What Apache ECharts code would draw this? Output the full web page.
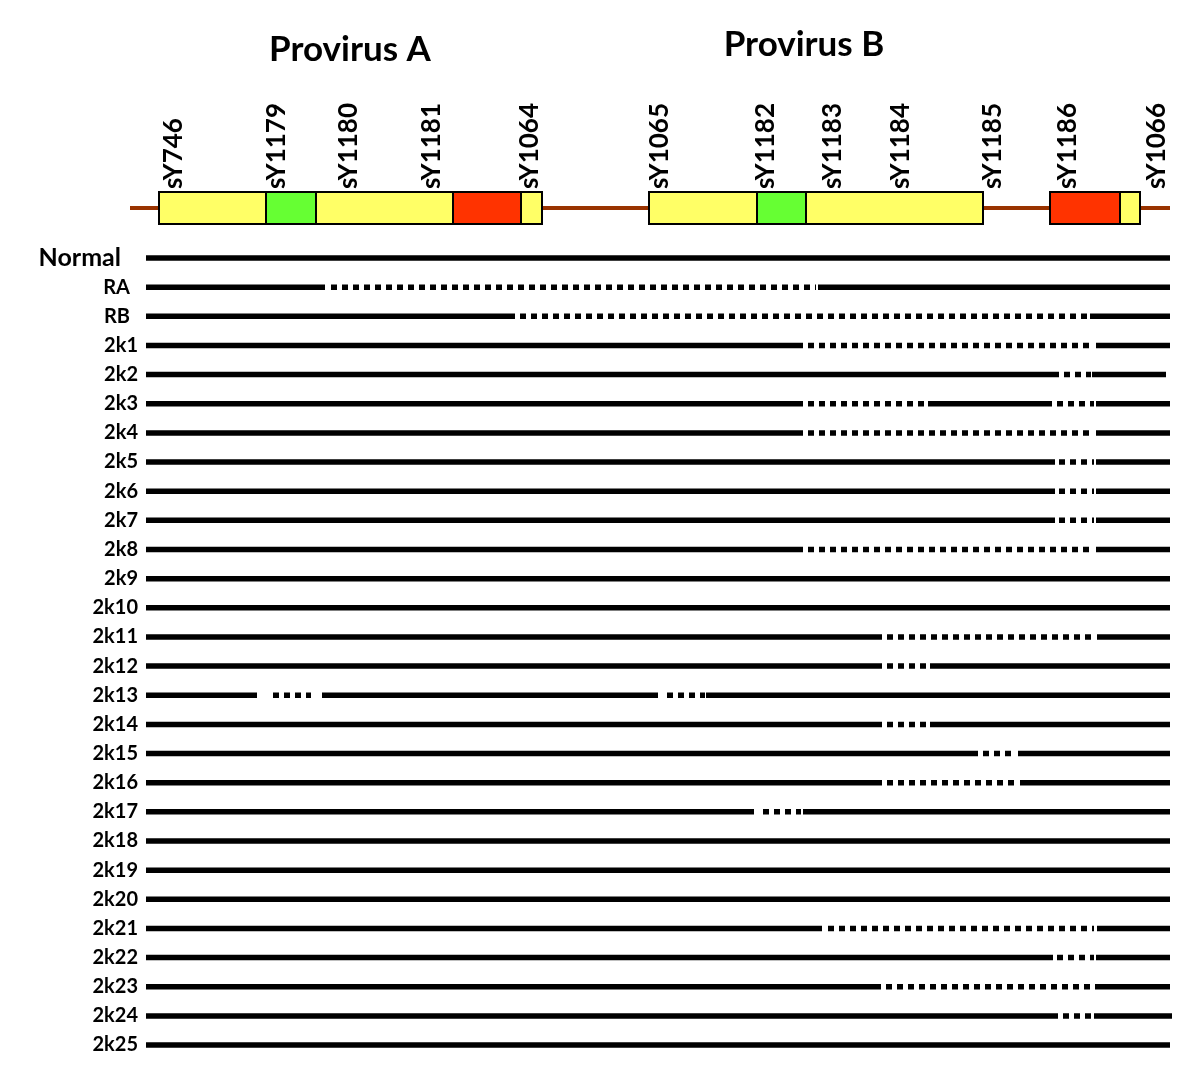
<!DOCTYPE html>
<html><head><meta charset="utf-8">
<script src="https://cdn.jsdelivr.net/npm/echarts@6/dist/echarts.min.js"></script>
<style>html,body{margin:0;padding:0;background:#fff}#c{width:1200px;height:1085px}</style>
</head><body><div id="c"></div>
<script>
// ---- data (positions along the map, in map units) ----
const rowNames = ['Normal','RA','RB','2k1','2k2','2k3','2k4','2k5','2k6','2k7','2k8','2k9','2k10',
  '2k11','2k12','2k13','2k14','2k15','2k16','2k17','2k18','2k19','2k20','2k21','2k22','2k23','2k24','2k25'];

// present (solid) stretches: [row, start, end]
const presentRuns = [
  ['Normal',146,1170],
  ['RA',146,325],['RA',818,1170],
  ['RB',146,515],['RB',1090,1170],
  ['2k1',146,803],['2k1',1096,1170],
  ['2k2',146,1059],['2k2',1092,1166],
  ['2k3',146,803],['2k3',928,1052],['2k3',1096,1170],
  ['2k4',146,803],['2k4',1096,1170],
  ['2k5',146,1055],['2k5',1096,1170],
  ['2k6',146,1055],['2k6',1096,1170],
  ['2k7',146,1055],['2k7',1096,1170],
  ['2k8',146,803],['2k8',1096,1170],
  ['2k9',146,1170],
  ['2k10',146,1170],
  ['2k11',146,882],['2k11',1097,1170],
  ['2k12',146,882],['2k12',930,1170],
  ['2k13',146,257],['2k13',322,658],['2k13',706,1170],
  ['2k14',146,882],['2k14',930,1170],
  ['2k15',146,978],['2k15',1018,1170],
  ['2k16',146,882],['2k16',1020,1170],
  ['2k17',146,754],['2k17',803,1170],
  ['2k18',146,1170],
  ['2k19',146,1170],
  ['2k20',146,1170],
  ['2k21',146,822],['2k21',1097,1170],
  ['2k22',146,1053],['2k22',1096,1170],
  ['2k23',146,881],['2k23',1095,1170],
  ['2k24',146,1058],['2k24',1094,1172],
  ['2k25',146,1170]
];

// deleted (dotted) stretches: [row, start, end]
const deletedRuns = [
  ['RA',331,816],
  ['RB',520,1089],
  ['2k1',808,1094],
  ['2k2',1064,1091],
  ['2k3',808,926],['2k3',1057,1094],
  ['2k4',808,1094],
  ['2k5',1059,1094],
  ['2k6',1059,1094],
  ['2k7',1059,1094],
  ['2k8',808,1094],
  ['2k11',887,1094],
  ['2k12',887,927],
  ['2k13',273,311],['2k13',667,705],
  ['2k14',887,927],
  ['2k15',983,1016],
  ['2k16',887,1016],
  ['2k17',763,801],
  ['2k21',828,1094],
  ['2k22',1057,1094],
  ['2k23',886,1093],
  ['2k24',1063,1092]
];

// proviral structure blocks: [start, end, region]
const provirusBlocks = [
  [159,266,'body'],[266,316,'green'],[316,453,'body'],[453,521,'red'],[521,542,'body'],
  [649,757,'body'],[757,806,'green'],[806,983,'body'],[1050,1120,'red'],[1120,1140,'body']
];
const backbone = [[130,1170]];

// STS markers: [name, position]
const markers = [
  ['sY746',174],['sY1179',277],['sY1180',349],['sY1181',432],['sY1064',530],
  ['sY1065',660],['sY1182',766],['sY1183',833],['sY1184',901],['sY1185',993],
  ['sY1186',1068],['sY1066',1157]
];

const titles = [['Provirus A',350],['Provirus B',804]];

// ---- chart ----
const FONT = 'Lato, "Open Sans", sans-serif';
const regionColor = {body:'#FFFF66', green:'#66FF33', red:'#FF3300'};

function runRenderer(dashed){
  return function(params, api){
    const r = api.value(0);
    const a = api.coord([api.value(1), r]);
    const b = api.coord([api.value(2), r]);
    return {type:'line', shape:{x1:a[0],y1:a[1],x2:b[0],y2:b[1]},
      style:{stroke:'#000', lineWidth:5.5, lineCap:'butt', lineDash: dashed ? [6,5] : null}};
  };
}

const chart = echarts.init(document.getElementById('c'));
chart.setOption({
  backgroundColor:'#fff',
  animation:false,
  graphic: titles.map((t,i)=>({type:'text', x:t[1], y: i===0 ? 50 : 45,
    style:{text:t[0], font:'bold 35px '+FONT, fill:'#000', align:'center', verticalAlign:'middle'}})),
  grid:[
    {left:146, right:30, top:243.4, bottom:25.4},
    {left:130, right:30, top:192, height:32}
  ],
  xAxis:[
    {type:'value', gridIndex:0, min:146, max:1170, show:false},
    {type:'value', gridIndex:1, min:130, max:1170, show:false}
  ],
  yAxis:[
    {type:'category', gridIndex:0, data:rowNames, inverse:true, boundaryGap:true,
      axisLine:{show:false}, axisTick:{show:false}, splitLine:{show:false},
      axisLabel:{interval:0, margin:8, color:'#000',
        formatter: v => v==='Normal' ? '{n|'+v+'}' : (v==='RA'||v==='RB') ? '{r|'+v+'}' : '{k|'+v+'}',
        rich:{
          n:{fontSize:25, fontWeight:'bold', fontFamily:FONT, color:'#000', padding:[0,17,0,0]},
          r:{fontSize:20, fontWeight:'bold', fontFamily:FONT, color:'#000', padding:[0,8,0,0]},
          k:{fontSize:20, fontWeight:'bold', fontFamily:FONT, color:'#000'}
        }}},
    {type:'value', gridIndex:1, min:0, max:1, show:false}
  ],
  series:[
    {type:'custom', xAxisIndex:0, yAxisIndex:0, data:presentRuns, encode:{x:[1,2], y:0},
      renderItem: runRenderer(false), silent:true},
    {type:'custom', xAxisIndex:0, yAxisIndex:0, data:deletedRuns, encode:{x:[1,2], y:0},
      renderItem: runRenderer(true), silent:true},
    {type:'custom', xAxisIndex:1, yAxisIndex:1, data:backbone, z:1, silent:true,
      renderItem:(p,api)=>{
        const a = api.coord([api.value(0),0.5]), b = api.coord([api.value(1),0.5]);
        return {type:'line', shape:{x1:a[0],y1:a[1],x2:b[0],y2:b[1]},
          style:{stroke:'#993300', lineWidth:4}};
      }},
    {type:'custom', xAxisIndex:1, yAxisIndex:1, data:provirusBlocks, z:2, silent:true,
      renderItem:(p,api)=>{
        const a = api.coord([api.value(0),1]), b = api.coord([api.value(1),0]);
        const reg = provirusBlocks[p.dataIndex][2];
        return {type:'rect', shape:{x:a[0], y:a[1], width:b[0]-a[0], height:b[1]-a[1]},
          style:{fill:regionColor[reg], stroke:'#000', lineWidth:2}};
      }},
    {type:'custom', xAxisIndex:1, yAxisIndex:1, data:markers.map(m=>[m[1], m[0]]), z:3, silent:true,
      renderItem:(p,api)=>{
        const a = api.coord([api.value(0),1]);
        return {type:'text', x:a[0], y:a[1]-3, rotation:Math.PI/2,
          style:{text:markers[p.dataIndex][0], font:'bold 26px '+FONT, fill:'#000',
            align:'left', verticalAlign:'middle'}};
      }}
  ]
});
</script></body></html>
